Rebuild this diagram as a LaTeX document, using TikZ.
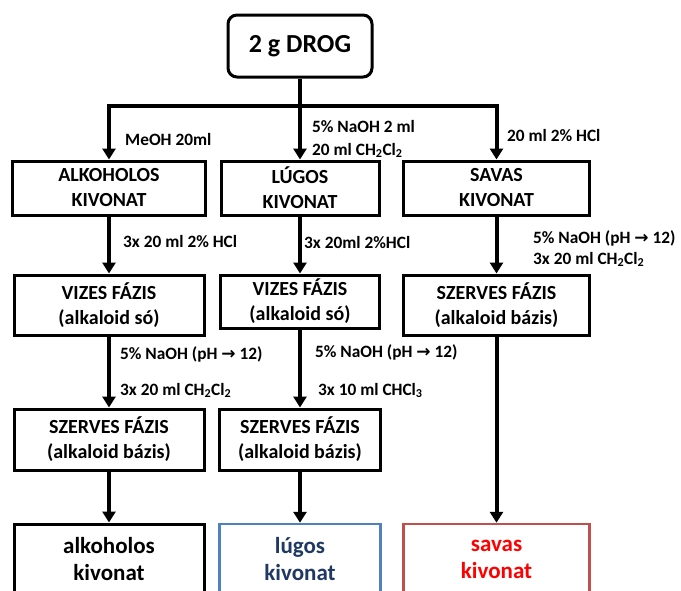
\documentclass[tikz,border=0pt]{standalone}
\usepackage{fontspec}
\setmainfont{Carlito}
\newfontfamily\arrfont{DejaVu Sans}
\usetikzlibrary{arrows.meta}
\definecolor{bblue}{RGB}{79,129,189}
\definecolor{tblue}{RGB}{31,56,100}
\definecolor{rborder}{RGB}{192,80,77}
\definecolor{tred}{RGB}{255,0,0}
\newcommand{\ra}{{\arrfont\fontsize{17}{18}\selectfont\bfseries →}}
\newcommand{\sub}[1]{\textsubscript{#1}}
\begin{document}
\begin{tikzpicture}[x=1pt,y=-1pt,
  box/.style={draw, line width=3pt, inner sep=0pt, align=center,
    font=\bfseries\fontsize{20}{25}\selectfont},
  endbox/.style={box, font=\bfseries\fontsize{23}{27}\selectfont},
  arr/.style={line width=4pt, -{Triangle[width=13pt,length=11pt]}},
  lab/.style={inner sep=0pt, anchor=base west, font=\bfseries\fontsize{17.3}{20}\selectfont}]
\clip (0,0) rectangle (681,590);
\fill[white] (0,0) rectangle (681,590);

% top
\node[box, rounded corners=9pt, minimum width=144pt, minimum height=62pt,
  font=\bfseries\fontsize{26}{30}\selectfont] (top) at (300,46) {2 g DROG};
\coordinate (j) at (300,106);

% row 1
\node[box, minimum width=193pt, minimum height=54pt] (a1) at (109,188) {ALKOHOLOS\\KIVONAT};
\node[box, minimum width=158pt, minimum height=54pt] (b1) at (300,188) {LÚGOS\\KIVONAT};
\node[box, minimum width=186pt, minimum height=54pt] (c1) at (496.5,188) {SAVAS\\KIVONAT};

% row 2
\node[box, minimum width=190pt, minimum height=60pt] (a2) at (109,305) {VIZES FÁZIS\\(alkaloid só)};
\node[box, minimum width=159pt, minimum height=53pt] (b2) at (300,301.5) {VIZES FÁZIS\\(alkaloid só)};
\node[box, minimum width=186pt, minimum height=60pt] (c2) at (496.5,305) {SZERVES FÁZIS\\(alkaloid bázis)};

% row 3
\node[box, minimum width=190pt, minimum height=61pt] (a3) at (109,439.5) {SZERVES FÁZIS\\(alkaloid bázis)};
\node[box, minimum width=161pt, minimum height=61pt] (b3) at (300,439.5) {SZERVES FÁZIS\\(alkaloid bázis)};

% row 4
\node[endbox, minimum width=190pt, minimum height=70pt] (a4) at (109,559) {alkoholos\\kivonat};
\node[endbox, draw=bblue, line width=2.5pt, text=tblue, minimum width=161pt, minimum height=70pt] (b4) at (300,559) {lúgos\\kivonat};
\node[endbox, draw=rborder, line width=2.5pt, text=tred, minimum width=186pt, minimum height=70pt] (c4) at (496.5,559) {savas\\kivonat};

% connectors
\draw[line width=4pt] (top.south) -- (j);
\draw[arr] (j) -| (a1.north);
\draw[arr] (j) -- (b1.north);
\draw[arr] (j) -| (c1.north);
\draw[arr] (a1.south) -- (a2.north);
\draw[arr] (b1.south) -- (b2.north);
\draw[arr] (c1.south) -- (c2.north);
\draw[arr] (a2.south) -- (a3.north);
\draw[arr] (b2.south) -- (b3.north);
\draw[arr] (c2.south) -- (c4.north);
\draw[arr] (a3.south) -- (a4.north);
\draw[arr] (b3.south) -- (b4.north);

% labels
\node[lab] (l1) at (125,145) {MeOH 20ml};
\node[lab] (l2) at (312,132) {5\% NaOH 2 ml};
\node[lab] (l3) at (312,155) {20 ml CH\sub{2}Cl\sub{2}};
\node[lab] (l4) at (507,141) {20 ml 2\% HCl};
\node[lab] (l5) at (123,247) {3x 20 ml 2\% HCl};
\node[lab] (l6) at (304,248) {3x 20ml 2\%HCl};
\node[lab] (l7) at (533,243) {5\% NaOH (pH \ra{} 12)};
\node[lab] (l8) at (533,264) {3x 20 ml CH\sub{2}Cl\sub{2}};
\node[lab] (l9) at (120,359) {5\% NaOH (pH \ra{} 12)};
\node[lab] (l10) at (120,395) {3x 20 ml CH\sub{2}Cl\sub{2}};
\node[lab] (l11) at (315,357) {5\% NaOH (pH \ra{} 12)};
\node[lab] (l12) at (318,395) {3x 10 ml CHCl\sub{3}};
\end{tikzpicture}
\end{document}
